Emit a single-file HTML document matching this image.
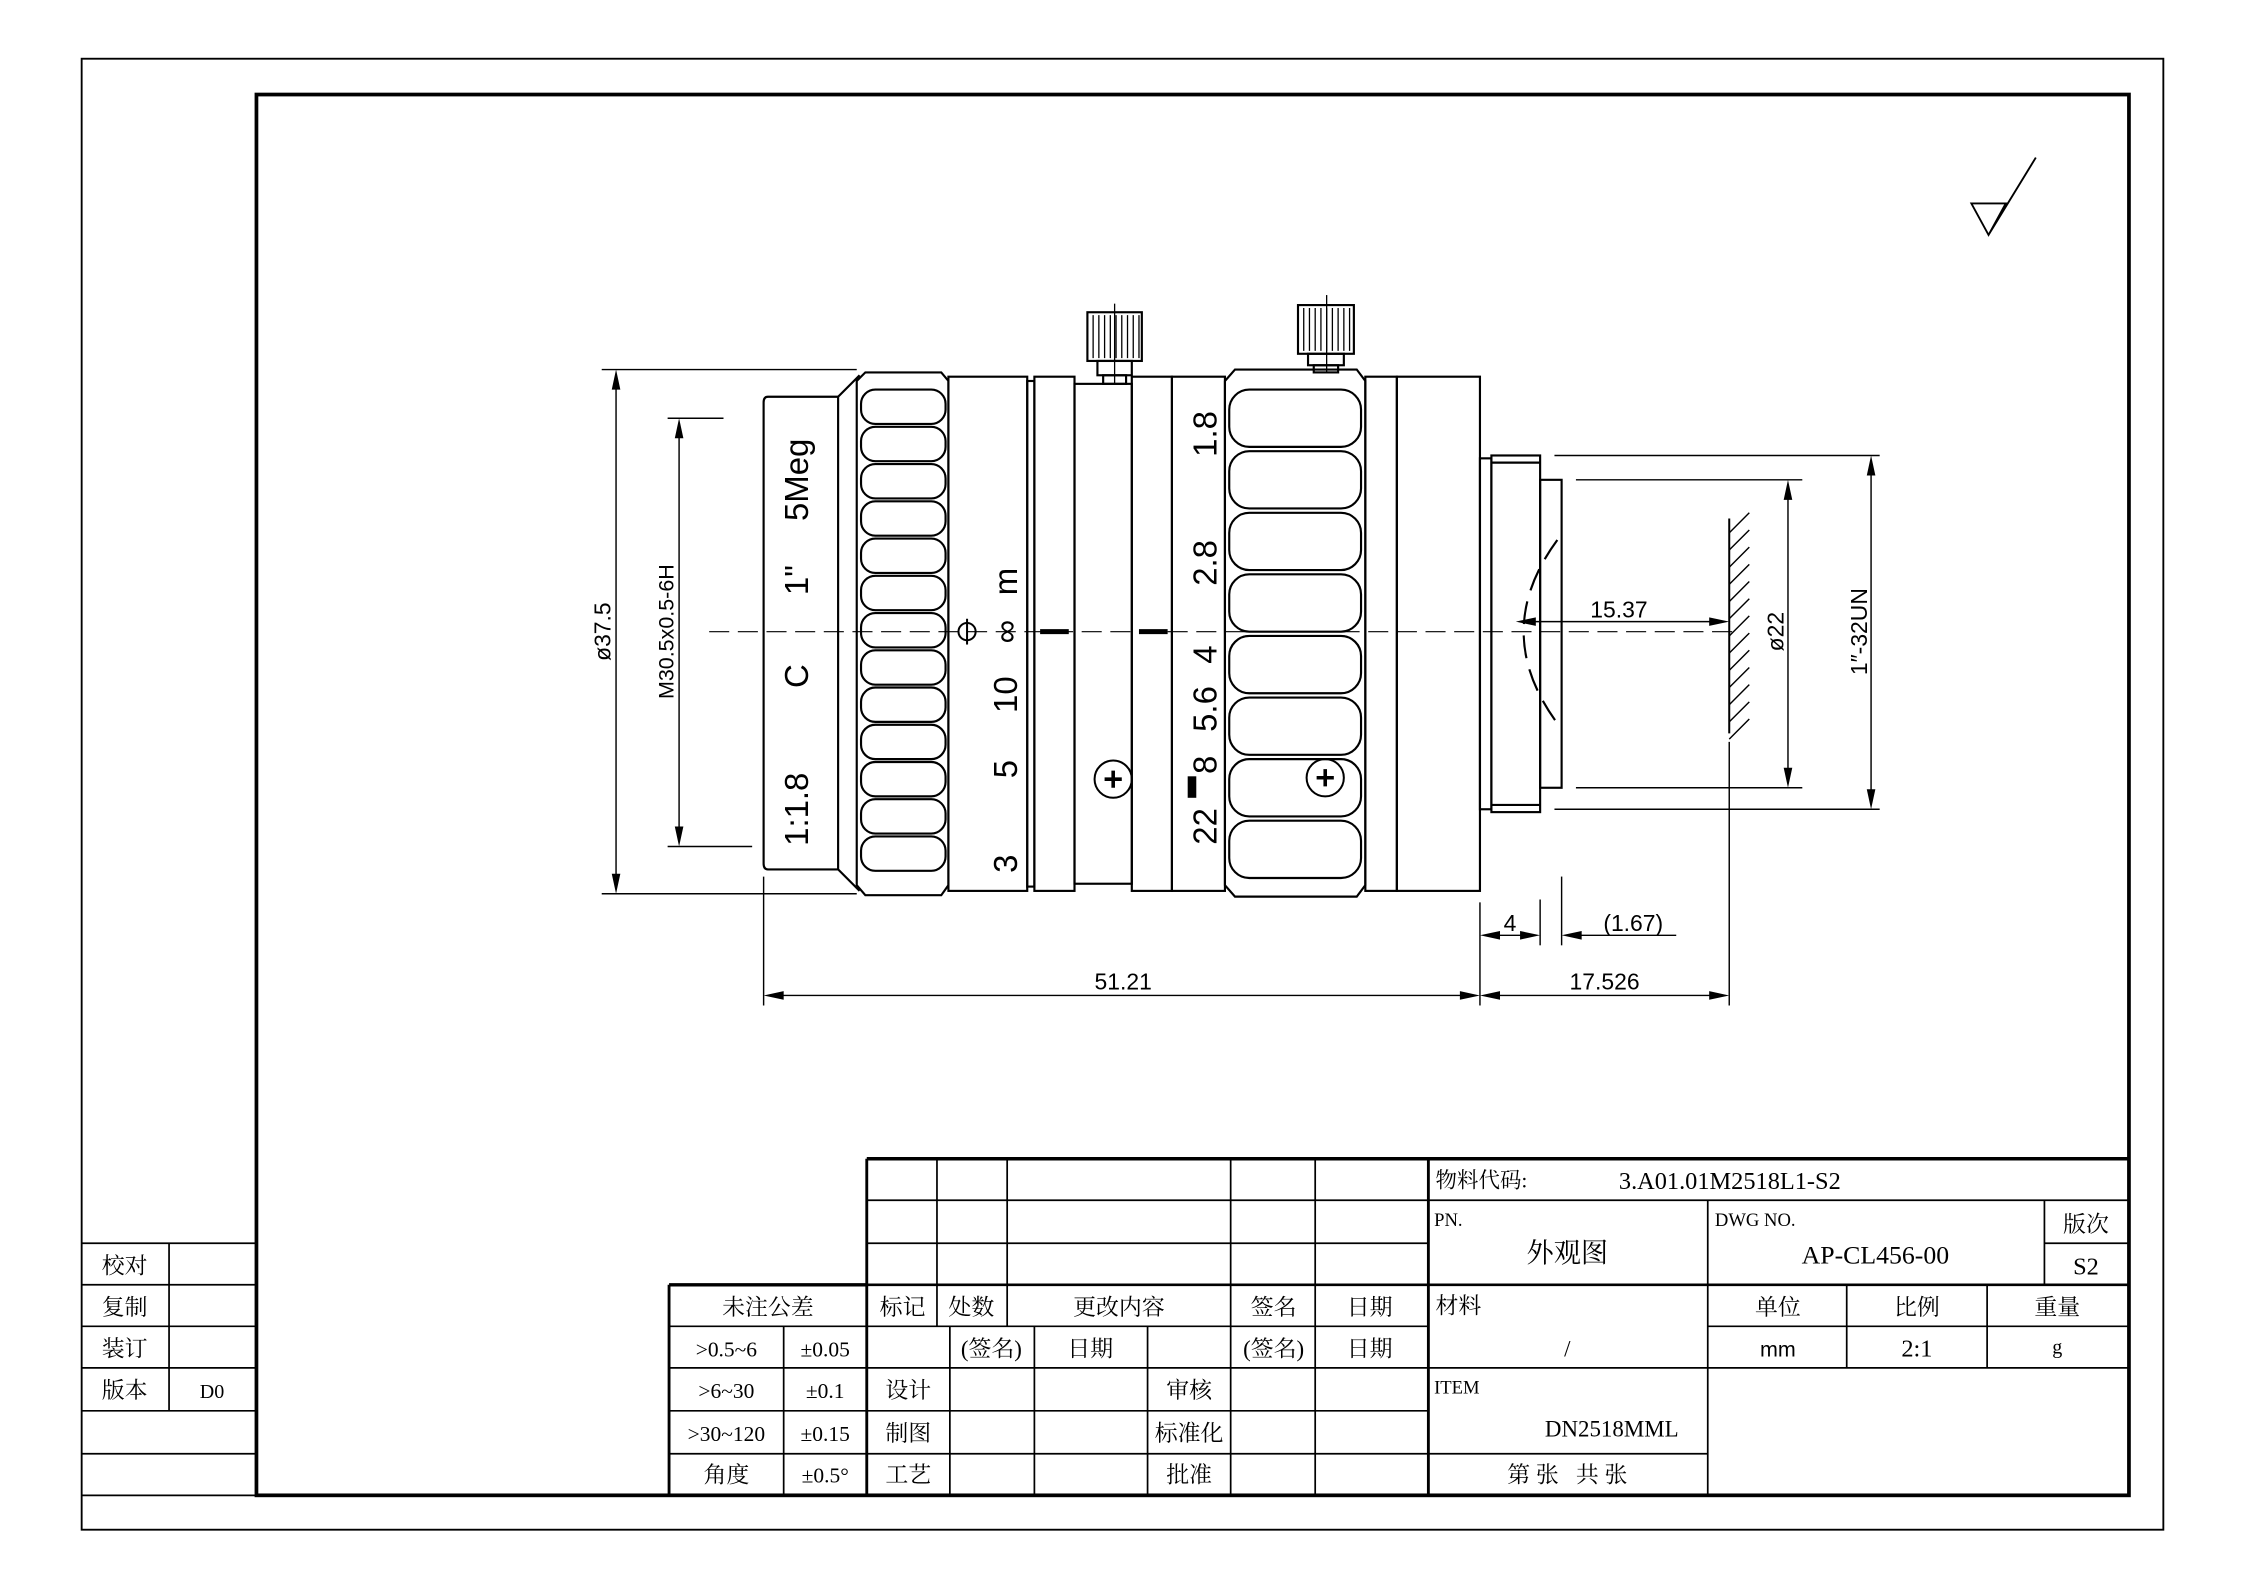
<!DOCTYPE html>
<html><head><meta charset="utf-8"><style>
html,body{margin:0;padding:0;background:#fff;}
svg{display:block;}
text{font-family:"Liberation Serif","Noto Serif CJK SC",serif;fill:#000;}
.s{font-family:"Liberation Sans","DejaVu Sans",sans-serif;}
</style></head><body>
<svg width="2245" height="1587" viewBox="0 0 1567 1108" preserveAspectRatio="none" xmlns="http://www.w3.org/2000/svg">
<rect width="1567" height="1108" fill="#fff"/>
<g fill="none" stroke="#000">
<rect x="57" y="41" width="1453" height="1027" stroke-width="1.3"/>
<rect x="179" y="66" width="1307" height="978" stroke-width="2.6"/>
<!-- left strip -->
<g stroke-width="1.2">
<line x1="57" y1="868" x2="179" y2="868"/><line x1="57" y1="897" x2="179" y2="897"/>
<line x1="57" y1="926" x2="179" y2="926"/><line x1="57" y1="955" x2="179" y2="955"/>
<line x1="57" y1="985" x2="179" y2="985"/><line x1="57" y1="1015" x2="179" y2="1015"/>
<line x1="57" y1="1044" x2="179" y2="1044"/><line x1="118" y1="868" x2="118" y2="985"/>
</g>
<!-- title block -->
<g stroke-width="1.2">
<line x1="605" y1="809" x2="1486" y2="809" stroke-width="2.4"/>
<line x1="605" y1="809" x2="605" y2="1044" stroke-width="2"/>
<line x1="467" y1="897" x2="605" y2="897" stroke-width="2.4"/>
<line x1="467" y1="897" x2="467" y2="1044" stroke-width="2"/>
<line x1="997" y1="809" x2="997" y2="1044" stroke-width="2"/>
<line x1="605" y1="838" x2="1486" y2="838"/>
<line x1="605" y1="868" x2="997" y2="868"/>
<line x1="605" y1="897" x2="1486" y2="897" stroke-width="1.8"/>
<line x1="467" y1="926" x2="997" y2="926"/>
<line x1="467" y1="955" x2="1486" y2="955"/>
<line x1="467" y1="985" x2="997" y2="985"/>
<line x1="467" y1="1015" x2="1192" y2="1015"/>
<line x1="547" y1="926" x2="547" y2="1044"/>
<line x1="654" y1="809" x2="654" y2="926"/><line x1="703" y1="809" x2="703" y2="926"/>
<line x1="859" y1="809" x2="859" y2="1044"/><line x1="918" y1="809" x2="918" y2="1044"/>
<line x1="663" y1="926" x2="663" y2="1044"/><line x1="722" y1="926" x2="722" y2="1044"/>
<line x1="801" y1="926" x2="801" y2="1044"/>
<line x1="1192" y1="838" x2="1192" y2="1044"/>
<line x1="1427" y1="838" x2="1427" y2="897"/><line x1="1427" y1="868" x2="1486" y2="868"/>
<line x1="1289" y1="897" x2="1289" y2="955"/><line x1="1387" y1="897" x2="1387" y2="955"/>
<line x1="1192" y1="926" x2="1486" y2="926"/>
</g>
<!-- roughness symbol -->
<path d="M1376 142 L1400 142 L1388 164 Z M1388 164 L1421 110" stroke-width="1.3"/>

<!-- centre line -->
<line x1="495" y1="441" x2="1215" y2="441" stroke-width="0.8" stroke-dasharray="14,6"/>

<g stroke-width="1.5">
<path d="M585 277 L536 277 Q533 277 533 281 L533 603 Q533 607 536 607 L585 607"/>
<path d="M585 277 L585 607 M585 277 L600 262 M585 607 L600 622"/>
<path d="M604 260 L657 260 L662 266 L662 618 L657 625 L604 625 L598 618 L598 266 Z"/>
<rect x="601" y="272" width="59" height="24" rx="10"/><rect x="601" y="298" width="59" height="24" rx="10"/>
<rect x="601" y="324" width="59" height="24" rx="10"/><rect x="601" y="350" width="59" height="24" rx="10"/>
<rect x="601" y="376" width="59" height="24" rx="10"/><rect x="601" y="402" width="59" height="24" rx="10"/>
<rect x="601" y="428" width="59" height="24" rx="10"/><rect x="601" y="454" width="59" height="24" rx="10"/>
<rect x="601" y="480" width="59" height="24" rx="10"/><rect x="601" y="506" width="59" height="24" rx="10"/>
<rect x="601" y="532" width="59" height="24" rx="10"/><rect x="601" y="558" width="59" height="24" rx="10"/>
<rect x="601" y="584" width="59" height="24" rx="10"/>
<rect x="662" y="263" width="55" height="359"/>
<rect x="717" y="266" width="5" height="353"/>
<rect x="722" y="263" width="28" height="359"/>
<rect x="750" y="268" width="40" height="349"/>
<rect x="790" y="263" width="28" height="359"/>
<rect x="818" y="263" width="37" height="359"/>
<path d="M862 258 L947 258 L953 266 L953 618 L947 626 L862 626 L855 618 L855 266 Z"/>
<rect x="858" y="272" width="92" height="40" rx="14"/><rect x="858" y="315" width="92" height="40" rx="14"/>
<rect x="858" y="358" width="92" height="40" rx="14"/><rect x="858" y="401" width="92" height="40" rx="14"/>
<rect x="858" y="444" width="92" height="40" rx="14"/><rect x="858" y="487" width="92" height="40" rx="14"/>
<rect x="858" y="530" width="92" height="40" rx="14"/><rect x="858" y="573" width="92" height="40" rx="14"/>
<rect x="953" y="263" width="22" height="359"/>
<rect x="975" y="263" width="58" height="359"/>
<rect x="1033" y="320" width="8" height="245"/>
<rect x="1041" y="318" width="34" height="249"/>
<line x1="1041" y1="323" x2="1075" y2="323"/><line x1="1041" y1="562" x2="1075" y2="562"/>
<rect x="1075" y="335" width="15" height="215"/>
<path d="M1087 377 Q1040 441 1087 505" stroke-dasharray="16,8"/>
<rect x="759" y="218" width="38" height="34"/>
<rect x="766" y="252" width="24" height="10"/><rect x="770" y="262" width="16" height="6"/>
<rect x="906" y="213" width="39" height="34"/>
<rect x="913" y="247" width="25" height="8"/><rect x="917" y="255" width="17" height="5"/>
</g>
<g stroke-width="0.9">
<path d="M763 220v30M767 220v30M771 220v30M775 220v30M779 220v30M783 220v30M787 220v30M791 220v30M795 220v30"/>
<path d="M910 215v30M914 215v30M918 215v30M922 215v30M926 215v30M930 215v30M934 215v30M938 215v30M942 215v30"/>
<line x1="778" y1="212" x2="778" y2="268"/><line x1="926" y1="206" x2="926" y2="260"/>
</g>
<g stroke-width="1.4">
<circle cx="777" cy="544" r="13"/><circle cx="925" cy="543" r="13"/>
<path d="M771 544h12M777 538v12M919 543h12M925 537v12" stroke-width="2.5"/>
<circle cx="675" cy="441" r="6"/><line x1="675" y1="432" x2="675" y2="450"/>
</g>
<path d="M726 441h20M795 441h20" stroke-width="3.5"/>
<rect x="829" y="542" width="6" height="15" fill="#000" stroke="none"/>

<g stroke-width="1">
<line x1="420" y1="258" x2="598" y2="258"/><line x1="420" y1="624" x2="598" y2="624"/>
<line x1="430" y1="262" x2="430" y2="620"/>
<line x1="466" y1="292" x2="505" y2="292"/><line x1="466" y1="591" x2="525" y2="591"/>
<line x1="474" y1="296" x2="474" y2="587"/>
<line x1="533" y1="612" x2="533" y2="702"/><line x1="1033" y1="630" x2="1033" y2="702"/>
<line x1="1075" y1="628" x2="1075" y2="660"/><line x1="1090" y1="612" x2="1090" y2="660"/>
<line x1="1207" y1="518" x2="1207" y2="702"/>
<line x1="537" y1="695" x2="1029" y2="695"/><line x1="1037" y1="695" x2="1203" y2="695"/>
<line x1="1037" y1="653" x2="1071" y2="653"/><line x1="1094" y1="653" x2="1170" y2="653"/>
<line x1="1085" y1="318" x2="1312" y2="318"/><line x1="1085" y1="565" x2="1312" y2="565"/>
<line x1="1100" y1="335" x2="1258" y2="335"/><line x1="1100" y1="550" x2="1258" y2="550"/>
<line x1="1248" y1="339" x2="1248" y2="546"/><line x1="1306" y1="322" x2="1306" y2="561"/>
<line x1="1062" y1="434" x2="1203" y2="434"/>
<line x1="1207" y1="362" x2="1207" y2="512" stroke-width="1.4"/>
<path d="M1207 372l14-14M1207 384l14-14M1207 396l14-14M1207 408l14-14M1207 420l14-14M1207 432l14-14M1207 444l14-14M1207 456l14-14M1207 468l14-14M1207 480l14-14M1207 492l14-14M1207 504l14-14M1207 516l14-14"/>
</g>
<g fill="#000" stroke="none">
<path d="M430 258l-3 14h6z M430 624l-3-14h6z M474 292l-3 14h6z M474 591l-3-14h6z"/>
<path d="M533 695l14-3v6z M1033 695l-14-3v6z M1033 695l14-3v6z M1207 695l-14-3v6z"/>
<path d="M1033 653l14-3v6z M1075 653l-14-3v6z M1090 653l14-3v6z"/>
<path d="M1058 434l14-3v6z M1207 434l-14-3v6z"/>
<path d="M1248 335l-3 14h6z M1248 550l-3-14h6z M1306 318l-3 14h6z M1306 565l-3-14h6z"/>
</g>
</g>

<g class="s" font-size="16">
<text class="s" transform="translate(432,441) rotate(-90)" text-anchor="middle" dy="-6">ø37.5</text>
<text class="s" transform="translate(476,441) rotate(-90)" text-anchor="middle" dy="-6" font-size="15">M30.5x0.5-6H</text>
<text class="s" x="784" y="691" text-anchor="middle">51.21</text>
<text class="s" x="1120" y="691" text-anchor="middle">17.526</text>
<text class="s" x="1054" y="650" text-anchor="middle">4</text>
<text class="s" x="1140" y="650" text-anchor="middle">(1.67)</text>
<text class="s" x="1130" y="431" text-anchor="middle">15.37</text>
<text class="s" transform="translate(1245,441) rotate(-90)" text-anchor="middle">ø22</text>
<text class="s" transform="translate(1303,441) rotate(-90)" text-anchor="middle">1″-32UN</text>
</g>
<g class="s" font-size="23">
<text class="s" transform="translate(564,565) rotate(-90)" text-anchor="middle">1:1.8</text>
<text class="s" transform="translate(564,472) rotate(-90)" text-anchor="middle">C</text>
<text class="s" transform="translate(564,405) rotate(-90)" text-anchor="middle">1"</text>
<text class="s" transform="translate(564,335) rotate(-90)" text-anchor="middle">5Meg</text>
<text class="s" transform="translate(710,603) rotate(-90)" text-anchor="middle">3</text>
<text class="s" transform="translate(710,537) rotate(-90)" text-anchor="middle">5</text>
<text class="s" transform="translate(710,485) rotate(-90)" text-anchor="middle">10</text>
<text class="s" transform="translate(710,441) rotate(-90)" text-anchor="middle">∞</text>
<text class="s" transform="translate(710,406) rotate(-90)" text-anchor="middle">m</text>
<text class="s" transform="translate(849,577) rotate(-90)" text-anchor="middle">22</text>
<text class="s" transform="translate(849,534) rotate(-90)" text-anchor="middle">8</text>
<text class="s" transform="translate(849,495) rotate(-90)" text-anchor="middle">5.6</text>
<text class="s" transform="translate(849,457) rotate(-90)" text-anchor="middle">4</text>
<text class="s" transform="translate(849,393) rotate(-90)" text-anchor="middle">2.8</text>
<text class="s" transform="translate(849,303) rotate(-90)" text-anchor="middle">1.8</text>
</g>

<g font-size="16">
<text x="87" y="889" text-anchor="middle">校对</text>
<text x="87" y="918" text-anchor="middle">复制</text>
<text x="87" y="947" text-anchor="middle">装订</text>
<text x="87" y="976" text-anchor="middle">版本</text>
<text x="148" y="976" text-anchor="middle" font-size="14">D0</text>
<text x="1002" y="829" font-size="15">物料代码:</text>
<text x="1130" y="830" font-size="17">3.A01.01M2518L1-S2</text>
<text x="1001" y="856" font-size="13">PN.</text>
<text x="1094" y="881" text-anchor="middle" font-size="19">外观图</text>
<text x="1197" y="856" font-size="13">DWG NO.</text>
<text x="1309" y="882" text-anchor="middle" font-size="18">AP-CL456-00</text>
<text x="1456" y="860" text-anchor="middle">版次</text>
<text x="1456" y="890" text-anchor="middle" font-size="17">S2</text>
<text x="1002" y="917">材料</text>
<text x="1094" y="947" text-anchor="middle">/</text>
<text x="1241" y="918" text-anchor="middle">单位</text>
<text x="1338" y="918" text-anchor="middle">比例</text>
<text x="1436" y="918" text-anchor="middle">重量</text>
<text x="1241" y="947" text-anchor="middle" class="s" font-size="15">mm</text>
<text x="1338" y="947" text-anchor="middle" font-size="17">2:1</text>
<text x="1436" y="945" text-anchor="middle" font-size="14">g</text>
<text x="1001" y="973" font-size="13">ITEM</text>
<text x="1125" y="1003" text-anchor="middle" font-size="16">DN2518MML</text>
<text x="1094" y="1035" text-anchor="middle">第 张&#160;&#160;&#160;共 张</text>
<text x="536" y="918" text-anchor="middle">未注公差</text>
<text x="507" y="947" text-anchor="middle" font-size="15">&gt;0.5~6</text>
<text x="576" y="947" text-anchor="middle" font-size="15">±0.05</text>
<text x="507" y="976" text-anchor="middle" font-size="15">&gt;6~30</text>
<text x="576" y="976" text-anchor="middle" font-size="15">±0.1</text>
<text x="507" y="1006" text-anchor="middle" font-size="15">&gt;30~120</text>
<text x="576" y="1006" text-anchor="middle" font-size="15">±0.15</text>
<text x="507" y="1035" text-anchor="middle">角度</text>
<text x="576" y="1035" text-anchor="middle" font-size="15">±0.5°</text>
<text x="630" y="918" text-anchor="middle">标记</text>
<text x="678" y="918" text-anchor="middle">处数</text>
<text x="781" y="918" text-anchor="middle">更改内容</text>
<text x="889" y="918" text-anchor="middle">签名</text>
<text x="956" y="918" text-anchor="middle">日期</text>
<text x="692" y="947" text-anchor="middle">(签名)</text>
<text x="761" y="947" text-anchor="middle">日期</text>
<text x="889" y="947" text-anchor="middle">(签名)</text>
<text x="956" y="947" text-anchor="middle">日期</text>
<text x="634" y="976" text-anchor="middle">设计</text>
<text x="830" y="976" text-anchor="middle">审核</text>
<text x="634" y="1006" text-anchor="middle">制图</text>
<text x="830" y="1006" text-anchor="middle">标准化</text>
<text x="634" y="1035" text-anchor="middle">工艺</text>
<text x="830" y="1035" text-anchor="middle">批准</text>
</g>
</svg>
</body></html>
